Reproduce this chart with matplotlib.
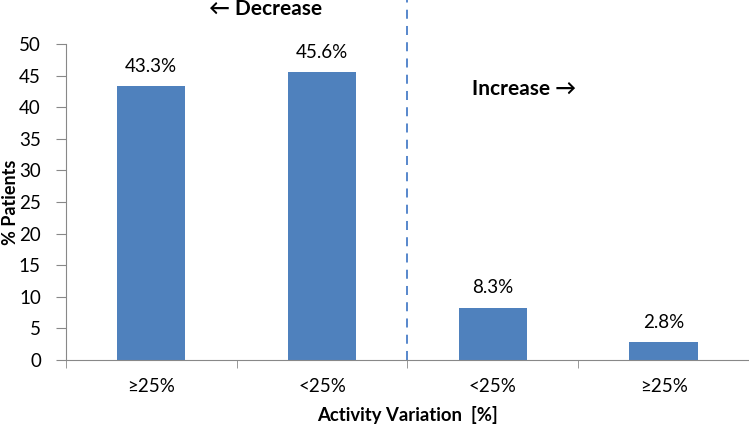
import matplotlib.pyplot as plt
import numpy as np

plt.rcParams['font.family'] = ['Lato', 'DejaVu Sans']

# Datos
categorias = ['≥25%', '<25%', '<25%', '≥25%']
pacientes = [43.3, 45.6, 8.3, 2.8]
etiquetas = ['43.3%', '45.6%', '8.3%', '2.8%']

fig = plt.figure(figsize=(7.49, 4.29), dpi=100)
ax = fig.add_axes([0.088, 0.161, 0.912, 0.736])

x = np.arange(len(categorias))
ax.bar(x, pacientes, width=0.4, color='#4F81BD')
for xi, v, t in zip(x, pacientes, etiquetas):
    ax.text(xi, v + 1.8, t, ha='center', va='bottom', fontsize=13.5)

ax.set_xlim(-0.5, 3.5)
ax.set_ylim(0, 50)
ax.set_yticks(range(0, 51, 5))
ax.set_xticks(x)
ax.set_xticklabels(categorias, fontsize=13.5)
ax.set_xticks([-0.5, 0.5, 1.5, 2.5, 3.5], minor=True)
ax.tick_params(axis='x', which='major', length=0, pad=13)
ax.tick_params(axis='x', which='minor', length=6, color='#888888')
ax.tick_params(axis='y', labelsize=13.5, length=7, pad=11, color='#888888')

for s in ['top', 'right']:
    ax.spines[s].set_visible(False)
for s in ['left', 'bottom']:
    ax.spines[s].set_color('#888888')

# linea divisoria
ax.plot([1.5, 1.5], [0, 57], linestyle=(0, (5, 4)), color='#4A7EC8',
        linewidth=1.3, clip_on=False)

ax.text(0.67, 55.6, '← Decrease', ha='center', va='center', fontsize=15,
        fontweight='bold', clip_on=False, family=['Lato', 'DejaVu Sans'])
ax.text(1.88, 42.9, 'Increase →', ha='left', va='center', fontsize=15,
        fontweight='bold', family=['Lato', 'DejaVu Sans'])

ax.set_ylabel('% Patients', fontsize=13, fontweight='bold', labelpad=0)
ax.set_xlabel('Activity Variation  [%]', fontsize=13.3, fontweight='bold', labelpad=8)

fig.savefig('out.png', dpi=100)
